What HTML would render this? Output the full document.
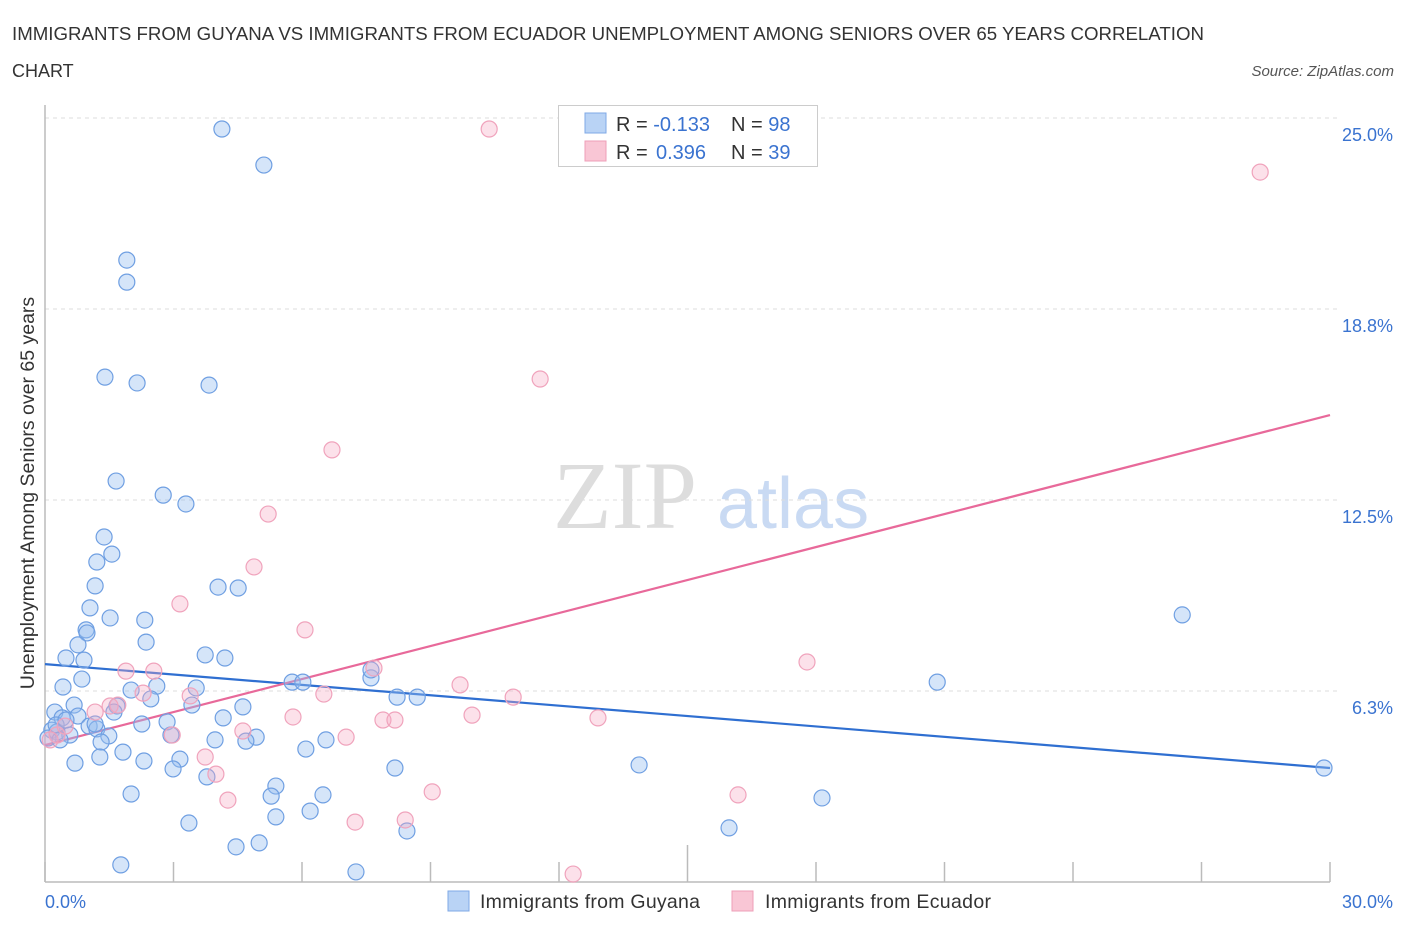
<!DOCTYPE html>
<html><head><meta charset="utf-8">
<style>
body{margin:0;background:#fff;font-family:"Liberation Sans",sans-serif;}
svg{display:block}
</style></head>
<body>
<svg id="chart" width="1406" height="930">
<text x="12" y="40" font-size="18" fill="#333" textLength="1192" lengthAdjust="spacingAndGlyphs">IMMIGRANTS FROM GUYANA VS IMMIGRANTS FROM ECUADOR UNEMPLOYMENT AMONG SENIORS OVER 65 YEARS CORRELATION</text>
<text x="12" y="77" font-size="18" fill="#333">CHART</text>
<text x="1394" y="76" font-size="15" fill="#555" font-style="italic" text-anchor="end">Source: ZipAtlas.com</text>
<g>
<text x="553" y="528" font-size="96" font-family="Liberation Serif,serif" fill="#ddd">ZIP</text>
<text x="717" y="528" font-size="72" fill="#c9daf3">atlas</text>
</g>
<g id="grid"></g>
<g id="trends"></g>
<g id="points"></g>
<text transform="translate(34,493) rotate(-90)" font-size="19.5" fill="#333" text-anchor="middle">Unemployment Among Seniors over 65 years</text>
<g>
<rect x="558.5" y="105.5" width="259" height="61" fill="#fff" stroke="#ccc"/>
<rect x="585" y="113" width="21" height="20" fill="#b9d3f5" stroke="#7fa8e6"/>
<rect x="585" y="141" width="21" height="20" fill="#f9c6d5" stroke="#ee9fb8"/>
<text x="616" y="131" font-size="20" fill="#333">R = <tspan fill="#3a73d0">-0.133</tspan><tspan x="731">N = </tspan><tspan fill="#3a73d0">98</tspan></text>
<text x="616" y="159" font-size="20" fill="#333">R = <tspan x="656" fill="#3a73d0">0.396</tspan><tspan x="731">N = </tspan><tspan fill="#3a73d0">39</tspan></text>
</g>
<g>
<rect x="448" y="891" width="21" height="20" fill="#b9d3f5" stroke="#7fa8e6"/>
<text x="480" y="908" font-size="19.5" fill="#333" textLength="220">Immigrants from Guyana</text>
<rect x="732" y="891" width="21" height="20" fill="#f9c6d5" stroke="#ee9fb8"/>
<text x="765" y="908" font-size="19.5" fill="#333" textLength="226">Immigrants from Ecuador</text>
</g>
</svg>
<script>
const yTicks=[6.25,12.5,18.75,25];
const yTickLabels=["6.3%","12.5%","18.8%","25.0%"];
const xTicks=[0,3,6,9,12,15,18,21,24,27,30];
const xEndLabels=["0.0%","30.0%"];
const guyanaX=[4.13,5.11,1.91,1.91,1.40,2.15,3.83,1.66,2.76,3.29,1.38,1.56,1.21,1.17,4.04,4.51,1.05,1.52,2.33,0.96,0.98,2.36,0.77,0.49,0.91,3.74,4.20,0.86,0.42,2.01,2.61,3.53,5.77,6.02,7.61,8.22,8.69,20.83,26.55,0.23,0.40,0.68,0.77,1.68,1.61,2.26,2.85,2.47,3.43,4.16,4.62,0.16,0.28,0.07,0.58,1.03,1.21,1.49,1.31,2.94,4.93,4.69,3.97,1.82,6.09,6.56,1.28,0.70,2.31,3.15,2.99,3.78,8.17,5.39,5.28,6.49,2.01,6.19,5.39,3.36,8.45,13.87,18.14,15.97,29.86,4.46,5.00,1.77,7.26,7.61,0.26,0.35,0.49,1.17];
const guyanaY=[24.64,23.46,20.35,19.63,16.52,16.33,16.26,13.12,12.66,12.37,11.29,10.73,10.47,9.69,9.65,9.62,8.97,8.64,8.57,8.25,8.15,7.85,7.76,7.33,7.26,7.43,7.33,6.64,6.38,6.28,6.41,6.35,6.54,6.54,6.68,6.05,6.05,6.54,8.74,5.56,5.37,5.79,5.43,5.76,5.56,5.17,5.24,5.99,5.79,5.37,5.73,4.97,4.91,4.71,4.81,5.10,5.01,4.78,4.58,4.81,4.74,4.61,4.65,4.25,4.35,4.65,4.09,3.89,3.96,4.02,3.70,3.44,3.73,3.14,2.81,2.85,2.88,2.32,2.13,1.93,1.67,3.83,2.75,1.77,3.73,1.15,1.28,0.56,0.33,6.94,5.14,4.65,5.30,5.17];
const ecuadorX=[10.37,28.37,11.56,6.70,5.21,4.88,3.15,6.07,17.79,1.89,2.54,7.68,9.69,10.93,6.51,3.39,2.29,1.52,1.70,1.17,5.79,7.89,8.17,9.97,12.91,4.62,7.03,2.97,3.74,3.99,4.27,9.04,16.18,7.24,8.41,12.33,0.28,0.12,0.47];
const ecuadorY=[24.64,23.23,16.46,14.14,12.04,10.31,9.10,8.25,7.20,6.90,6.90,7.00,6.45,6.05,6.15,6.09,6.18,5.76,5.79,5.56,5.40,5.30,5.30,5.46,5.37,4.94,4.74,4.81,4.09,3.53,2.68,2.95,2.85,1.96,2.03,0.26,4.81,4.65,5.10];
const trendX=[0,30];
const guyanaTrend=[7.13,3.73];
const ecuadorTrend=[4.48,15.28];

const NS="http://www.w3.org/2000/svg";
const X0=45,X1=1330,Y0=882,Y25=118;
const sx=v=>X0+(X1-X0)*v/30;
const sy=v=>Y0-(Y0-Y25)*v/25;
function mk(tag,attrs,parent){const e=document.createElementNS(NS,tag);for(const k in attrs)e.setAttribute(k,attrs[k]);parent.appendChild(e);return e;}
const grid=document.getElementById('grid');
yTicks.forEach((t,i)=>{
  const l=mk('line',{x1:X0,x2:X1+8,y1:sy(t),y2:sy(t),stroke:'#ddd','stroke-dasharray':'4,4'},grid);
  
  
  const tx=mk('text',{x:1393,y:sy(t)+23,'font-size':18,fill:'#3a73d0','text-anchor':'end'},grid);
  tx.textContent=yTickLabels[i];
  
  
});
const ax=mk('line',{x1:X0,x2:X0,y1:105,y2:Y0,stroke:'#bbb','stroke-width':1.5},grid);


const bx=mk('line',{x1:X0,x2:X1,y1:Y0,y2:Y0,stroke:'#bbb','stroke-width':1.5},grid);


xTicks.forEach(t=>{
  const l=mk('line',{x1:sx(t),x2:sx(t),y1:t===15?845:862,y2:Y0,stroke:'#bbb','stroke-width':1.5},grid);
  
  
});
[[0,'start',45],[30,'end',1393]].forEach((d,i)=>{
  const tx=mk('text',{x:d[2],y:908,'font-size':18,fill:'#3a73d0','text-anchor':d[1]},grid);
  tx.textContent=xEndLabels[i];
  
  
});
const pts=document.getElementById('points');
function series(xs,ys,fill,stroke,name){
  xs.forEach((x,i)=>{
    const c=mk('circle',{cx:sx(x),cy:sy(ys[i]),r:8,fill:fill,stroke:stroke,'stroke-width':1.2},pts);
    
    
  });
}
series(guyanaX,guyanaY,'rgba(150,190,240,0.4)','#6f9fe2','guyana-point');
series(ecuadorX,ecuadorY,'rgba(245,170,195,0.35)','#f0a3bc','ecuador-point');
const tr=document.getElementById('trends');
const t1=mk('line',{x1:sx(trendX[0]),y1:sy(guyanaTrend[0]),x2:sx(trendX[1]),y2:sy(guyanaTrend[1]),stroke:'#2f6fd1','stroke-width':2.2},tr);


const t2=mk('line',{x1:sx(trendX[0]),y1:sy(ecuadorTrend[0]),x2:sx(trendX[1]),y2:sy(ecuadorTrend[1]),stroke:'#e8699a','stroke-width':2.2},tr);


</script>
</body></html>
